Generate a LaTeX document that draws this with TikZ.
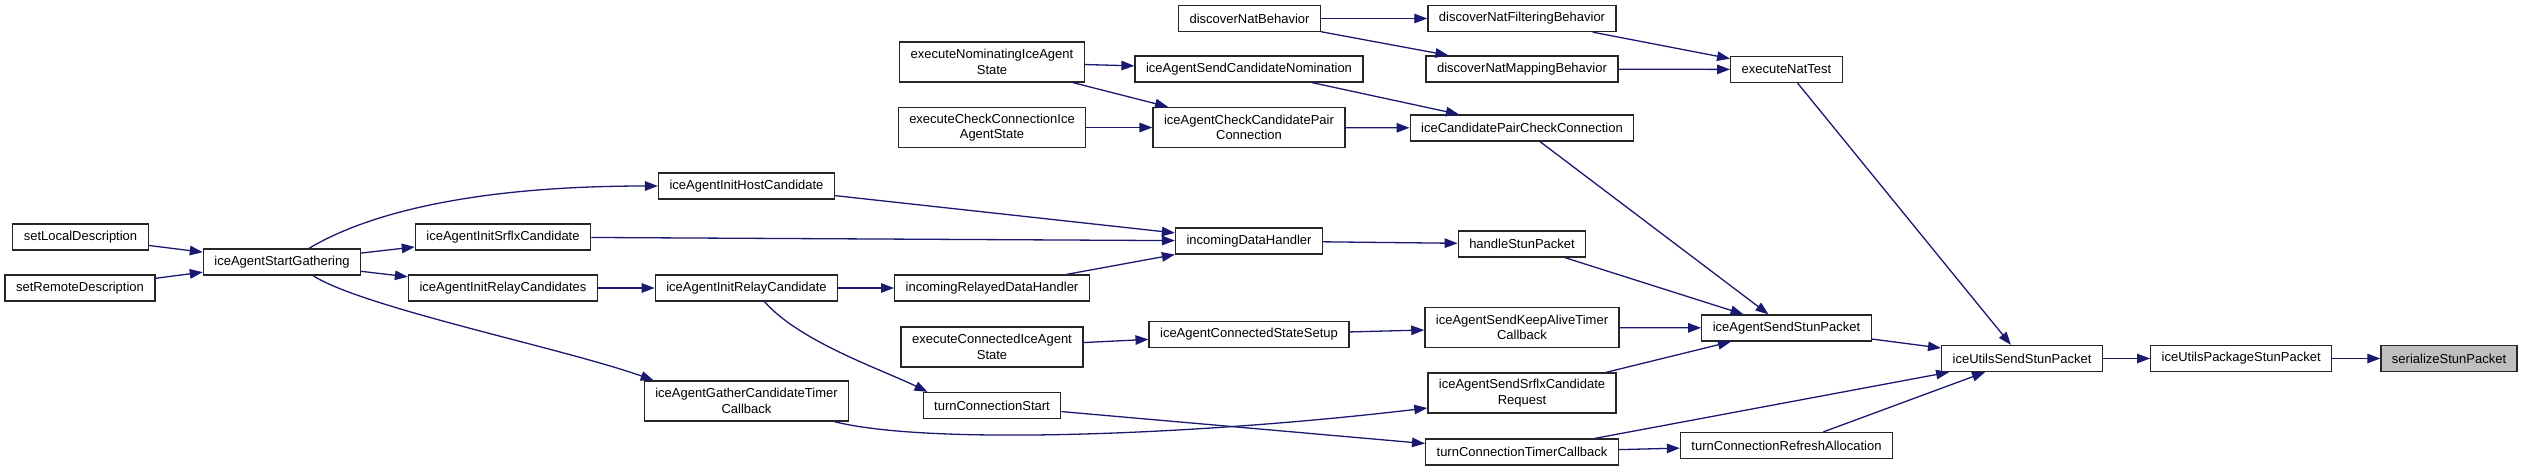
\documentclass[tikz,border=0pt]{standalone}
\usepackage{fontspec}
\setmainfont{Liberation Sans}
\usepackage{xcolor}
\usetikzlibrary{positioning,arrows.meta}
\definecolor{edgeblue}{HTML}{191970}
\definecolor{boxgray}{HTML}{262626}
\definecolor{hlgray}{HTML}{BFBFBF}

\begin{document}
\begin{tikzpicture}[x=1pt, y=1pt,
  font=\fontsize{13}{15.5}\selectfont,
  fn/.style={draw=boxgray, line width=1.3pt, fill=white, minimum height=26pt, inner xsep=11pt, inner ysep=2pt, align=center},
  fntwo/.style={fn, minimum height=40pt},
  fnhl/.style={fn, fill=hlgray},
  call/.style={draw=edgeblue, line width=1.3pt, -{Triangle[length=13pt,width=9.5pt]}}]
\useasboundingbox (0,0) rectangle (2528,-471);
% callers, left to right
\node[fn] (sld) at (80.5,-237) {setLocalDescription};
\node[fn] (srd) at (80,-288) {setRemoteDescription};
\node[fn] (gather) at (282,-262) {iceAgentStartGathering};
\node[fn] (srflx) at (503,-237) {iceAgentInitSrflxCandidate};
\node[fn] (relays) at (503,-288) {iceAgentInitRelayCandidates};
\node[fn] (host) at (746.5,-186) {iceAgentInitHostCandidate};
\node[fn] (relay) at (746.5,-288) {iceAgentInitRelayCandidate};
\node[fntwo] (gtimer) at (746.5,-401) {iceAgentGatherCandidateTimer\\Callback};
\node[fntwo] (nomst) at (992,-62) {executeNominatingIceAgent\\State};
\node[fntwo] (chkst) at (992,-127.5) {executeCheckConnectionIce\\AgentState};
\node[fn] (relayed) at (992,-288) {incomingRelayedDataHandler};
\node[fntwo] (connst) at (992,-347) {executeConnectedIceAgent\\State};
\node[fn] (tstart) at (992,-405.5) {turnConnectionStart};
\node[fn] (natb) at (1249.5,-18.5) {discoverNatBehavior};
\node[fn] (nom) at (1249,-69) {iceAgentSendCandidateNomination};
\node[fntwo] (chk) at (1249,-127.5) {iceAgentCheckCandidatePair\\Connection};
\node[fn] (indata) at (1249,-241) {incomingDataHandler};
\node[fn] (setup) at (1249,-334.5) {iceAgentConnectedStateSetup};
\node[fn] (natf) at (1522,-18.5) {discoverNatFilteringBehavior};
\node[fn] (natm) at (1522,-69) {discoverNatMappingBehavior};
\node[fn] (pair) at (1522,-128) {iceCandidatePairCheckConnection};
\node[fn] (stun) at (1522,-244) {handleStunPacket};
\node[fntwo] (keep) at (1522,-327.5) {iceAgentSendKeepAliveTimer\\Callback};
\node[fntwo] (srfreq) at (1522,-393) {iceAgentSendSrflxCandidate\\Request};
\node[fn] (ttimer) at (1522,-452) {turnConnectionTimerCallback};
\node[fn] (nattest) at (1786.5,-69.5) {executeNatTest};
\node[fn] (agsend) at (1786.5,-328) {iceAgentSendStunPacket};
\node[fn] (refresh) at (1786.5,-445.5) {turnConnectionRefreshAllocation};
\node[fn] (usend) at (2022,-358.5) {iceUtilsSendStunPacket};
\node[fn, right=47pt of usend] (upack) {iceUtilsPackageStunPacket};
\node[fnhl, right=48pt of upack] (ser) {serializeStunPacket};
% calls
\draw[call] (sld)--(gather);
\draw[call] (srd)--(gather);
\draw[call] ([xshift=27pt]gather.north) .. controls +(50,30) and +(-200,0) .. (host.west);
\draw[call] (gather)--(srflx);
\draw[call] (gather)--(relays);
\draw[call] ([xshift=31pt]gather.south) .. controls +(50,-32) and +(-90,32) .. ([xshift=10pt]gtimer.north west);
\draw[call] (relays)--(relay);
\draw[call] (host)--(indata);
\draw[call] (srflx)--(indata);
\draw[call] (relay)--(relayed);
\draw[call] (relayed)--(indata);
\draw[call] ([xshift=18pt]relay.south) .. controls +(35,-40) and +(-45,22) .. ([xshift=5pt]tstart.north west);
\draw[call] ([xshift=88pt]gtimer.south) .. controls +(95,-24) and +(-228,-27) .. ([yshift=-15pt]srfreq.west);
\draw[call] (tstart)--(ttimer);
\draw[call] (connst)--(setup);
\draw[call] (setup)--(keep);
\draw[call] (nomst)--(nom);
\draw[call] (nomst)--(chk);
\draw[call] (chkst)--(chk);
\draw[call] (nom)--(pair);
\draw[call] (chk)--(pair);
\draw[call] (natb)--(natf);
\draw[call] (natb)--(natm);
\draw[call] (natf)--(nattest);
\draw[call] (natm)--(nattest);
\draw[call] (indata)--(stun);
\draw[call] (pair)--(agsend);
\draw[call] (stun)--(agsend);
\draw[call] (keep)--(agsend);
\draw[call] (srfreq)--(agsend);
\draw[call] (ttimer)--(refresh);
\draw[call] (ttimer)--(usend);
\draw[call] (refresh)--(usend);
\draw[call] (agsend)--(usend);
\draw[call] (nattest)--(usend);
\draw[call] (usend)--(upack);
\draw[call] (upack)--(ser);
\end{tikzpicture}
\end{document}
